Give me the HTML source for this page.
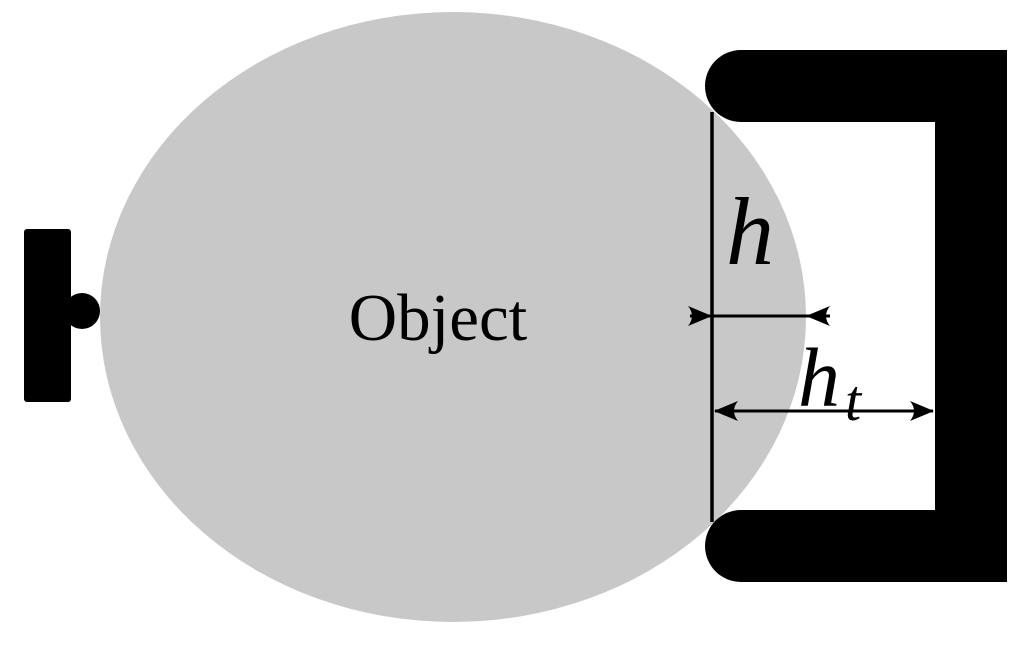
<!DOCTYPE html>
<html><head><style>html,body{margin:0;padding:0;background:#fff;width:1035px;height:646px;overflow:hidden}</style></head>
<body>
<svg width="1035" height="646" viewBox="0 0 1035 646" xmlns="http://www.w3.org/2000/svg">
<ellipse cx="453" cy="317" rx="353" ry="305" fill="#c8c8c8"/>
<rect x="24" y="229" width="47" height="173" rx="3" fill="#000"/>
<circle cx="82" cy="311" r="18" fill="#000"/>
<path d="M741,50 H1007 V582 H741 A36,36 0 0 1 741,510 H935 V122 H741 A36,36 0 0 1 741,50 Z" fill="#000"/>
<line x1="712" y1="112" x2="712" y2="522" stroke="#000" stroke-width="3.5"/>
<line x1="690" y1="316" x2="830" y2="316" stroke="#000" stroke-width="3"/>
<path d="M712,316 L688,306 Q696,316 688,326 Z" fill="#000"/>
<path d="M806,316 L830,306 Q822,316 830,326 Z" fill="#000"/>
<line x1="715" y1="411" x2="933" y2="411" stroke="#000" stroke-width="3"/>
<path d="M714,411 L738,401 Q730,411 738,421 Z" fill="#000"/>
<path d="M934,411 L910,401 Q918,411 910,421 Z" fill="#000"/>
<text x="438" y="340" font-family="Liberation Serif, serif" font-size="67" text-anchor="middle">Object</text>
<text x="726" y="264" font-family="Liberation Serif, serif" font-style="italic" font-size="96">h</text>
<text x="798" y="406" font-family="Liberation Serif, serif" font-style="italic" font-size="84">h</text>
<text x="845" y="420" font-family="Liberation Serif, serif" font-style="italic" font-size="58">t</text>
</svg>
</body></html>
